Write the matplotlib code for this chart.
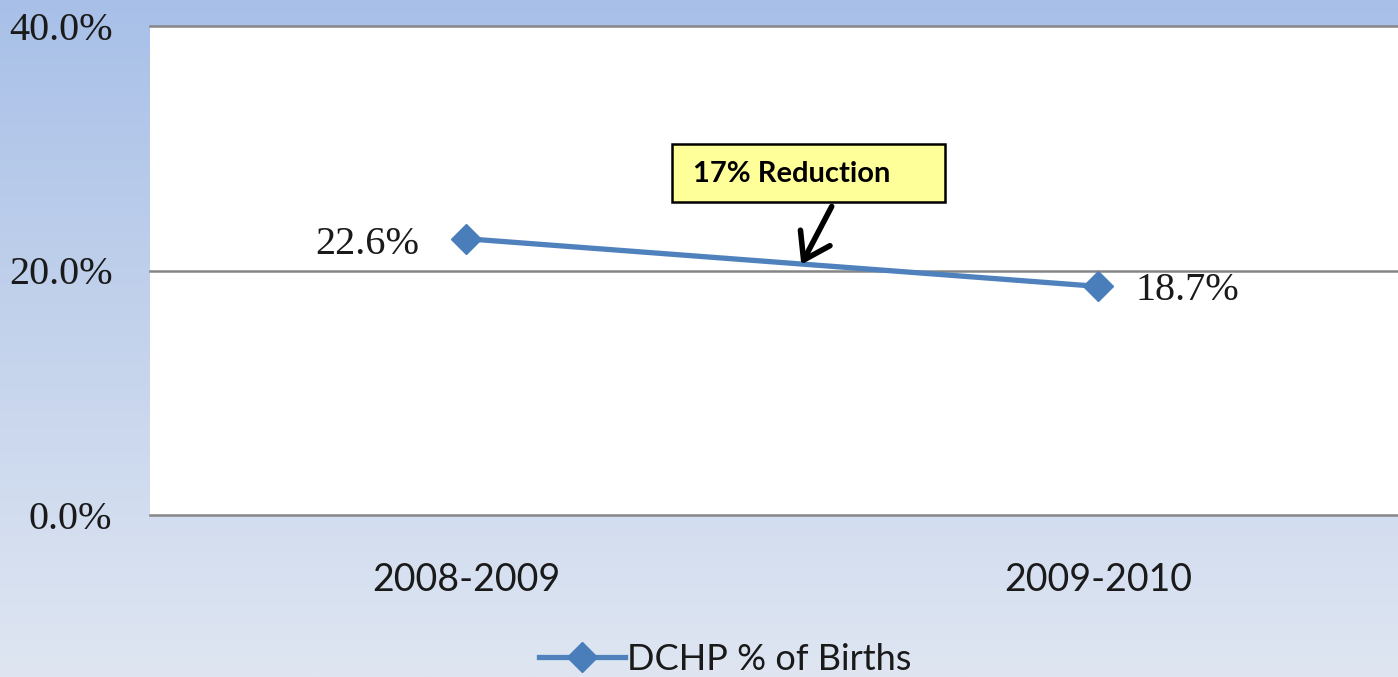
import numpy as np
import matplotlib
matplotlib.use("Agg")
import matplotlib.pyplot as plt
from matplotlib.patches import Rectangle, FancyArrowPatch
from matplotlib.colors import LinearSegmentedColormap

categories = ["2008-2009", "2009-2010"]
values = [22.6, 18.7]
value_labels = ["22.6%", "18.7%"]
yticks = [0, 20, 40]
ytick_labels = ["0.0%", "20.0%", "40.0%"]
series_name = "DCHP % of Births"
note_text = "17% Reduction"

W, H = 1398, 677
fig = plt.figure(figsize=(W / 100, H / 100), dpi=100)

# background gradient
bg = fig.add_axes([0, 0, 1, 1], zorder=-10)
cmap = LinearSegmentedColormap.from_list("bg", ["#a8c0e8", "#c4d3ec", "#dfe6f2"])
grad = np.linspace(0, 1, 256).reshape(-1, 1)
bg.imshow(grad, aspect="auto", cmap=cmap, extent=[0, 1, 0, 1])
bg.axis("off")

def px(x, y):
    return (x / W, 1 - y / H)

left, right, top, bottom = 150, 1414, 26, 515
ax = fig.add_axes([left / W, (H - bottom) / H, (right - left) / W, (bottom - top) / H])
ax.set_facecolor("white")
x = np.arange(len(categories))
ax.set_xlim(-0.5, len(categories) - 0.5)
ax.set_ylim(0, 40)
for s in ax.spines.values():
    s.set_visible(False)
for yv in yticks:
    ax.plot([0, 1], [yv, yv], color="#868686", lw=1.8, zorder=2,
            transform=ax.get_yaxis_transform(), clip_on=False)

ax.set_yticks(yticks)
ax.set_yticklabels(ytick_labels, family="Liberation Serif", fontsize=29, color="#1a1a1a")
ax.set_xticks(x)
ax.set_xticklabels(categories, family="Lato", fontsize=27, color="#1a1a1a")
ax.tick_params(axis="y", length=0, pad=27)
ax.tick_params(axis="x", length=0, pad=34)

line, = ax.plot(x, values, color="#4f81bd", lw=3.8, marker="D", markersize=15,
                markerfacecolor="#4a7ebb", markeredgecolor="#4a7ebb", zorder=4,
                label=series_name)

ax.annotate(value_labels[0], (x[0], values[0]), xytext=(-34, -4), textcoords="offset points",
            ha="right", va="center", family="Liberation Serif", fontsize=29, color="#1a1a1a")
ax.annotate(value_labels[1], (x[1], values[1]), xytext=(27, -3), textcoords="offset points",
            ha="left", va="center", family="Liberation Serif", fontsize=29, color="#1a1a1a")

# callout box
bx0, by0, bx1, by1 = 672, 144, 945, 202
fig.patches.append(Rectangle(px(bx0, by1), (bx1 - bx0) / W, (by1 - by0) / H,
                             transform=fig.transFigure, facecolor="#ffff99",
                             edgecolor="black", lw=1.8, zorder=5))
fig.text(*px(693, 174), note_text, ha="left", va="center", family="Lato",
         fontweight="bold", fontsize=21, color="black", zorder=6)
fig.add_artist(FancyArrowPatch(px(833, 204), px(800, 267),
               transform=fig.transFigure, arrowstyle="->,head_length=9,head_width=6",
               color="black", lw=4, mutation_scale=2, zorder=6))

leg = fig.legend(handles=[line], loc="center", bbox_to_anchor=px(725, 659),
                 frameon=False, prop={"family": "Lato", "size": 26},
                 handlelength=2.4, handletextpad=0.05, borderpad=0)
for t in leg.get_texts():
    t.set_color("#1a1a1a")

fig.savefig("out.png", dpi=100)
